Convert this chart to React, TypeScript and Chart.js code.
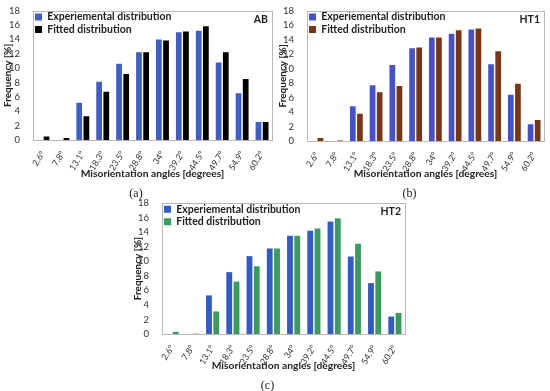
import React, { useEffect, useRef } from "react";
import { Chart, registerables } from "chart.js";

Chart.register(...registerables);

const angleLabels = ["2.6°", "7.8°", "13.1°", "18.3°", "23.5°", "28.8°", "34°", "39.2°", "44.5°", "49.7°", "54.9°", "60.2°"];

const abExperimental = [0, 0, 5.2, 8.1, 10.6, 12.2, 14.0, 15.0, 15.2, 10.8, 6.5, 2.5];
const abFitted = [0.5, 0.28, 3.3, 6.7, 9.2, 12.2, 13.85, 15.1, 15.85, 12.2, 8.5, 2.5];

const ht1Experimental = [0, 0, 4.8, 7.7, 10.5, 12.8, 14.3, 14.8, 15.4, 10.6, 6.4, 2.3];
const ht1Fitted = [0.4, 0.06, 3.75, 6.75, 7.6, 12.9, 14.3, 15.3, 15.55, 12.4, 7.9, 2.9];

const ht2Experimental = [0, 0, 5.3, 8.5, 10.7, 11.75, 13.5, 14.2, 15.45, 10.65, 7.0, 2.4];
const ht2Fitted = [0.3, 0.05, 3.1, 7.2, 9.3, 11.75, 13.5, 14.5, 15.9, 12.4, 8.6, 2.9];

const yMin = 0;
const yMax = 18;
const yStep = 2;

const seriesNames = ["Experiemental distribution", "Fitted distribution"];

const FONT = "Lato, 'Open Sans', sans-serif";

const framePlugin = {
  id: "frame",
  beforeDatasetsDraw(chart: any) {
    const { ctx, chartArea } = chart;
    ctx.save();
    ctx.strokeStyle = "#b8b8b8";
    ctx.lineWidth = 1;
    ctx.strokeRect(
      Math.round(chartArea.left) + 0.5,
      Math.round(chartArea.top) + 0.5,
      Math.round(chartArea.right - chartArea.left),
      Math.round(chartArea.bottom - chartArea.top)
    );
    ctx.restore();
  },
};

// keep the in-plot legend anchored to the plot's top-left corner
const legendAnchorPlugin = {
  id: "legendAnchor",
  afterLayout(chart: any) {
    const lg = chart.legend;
    if (!lg) return;
    const h = lg.bottom - lg.top;
    lg.top = chart.chartArea.top - 1;
    lg.bottom = lg.top + h;
    lg.left = chart.chartArea.left;
  },
};

const cornerPlugin = {
  id: "cornerLabel",
  afterDraw(chart: any, _args: any, opts: any) {
    if (!opts || !opts.text) return;
    const { ctx, chartArea } = chart;
    ctx.save();
    ctx.font = `bold 10.5px ${FONT}`;
    ctx.fillStyle = "#222";
    ctx.textAlign = "right";
    ctx.textBaseline = "middle";
    ctx.fillText(opts.text, chartArea.right - 4, chartArea.top + 9);
    ctx.restore();
  },
};

type PanelProps = {
  left: number;
  top: number;
  width: number;
  height: number;
  yWidth: number;
  padTop: number;
  padRight: number;
  xHeight: number;
  exp: number[];
  fit: number[];
  expColor: string;
  fitColor: string;
  tag: string;
  caption: string;
};

function Panel(p: PanelProps) {
  const ref = useRef<HTMLCanvasElement | null>(null);
  useEffect(() => {
    if (!ref.current) return;
    const chart = new Chart(ref.current, {
      type: "bar",
      data: {
        labels: angleLabels,
        datasets: [
          { label: seriesNames[0], data: p.exp, backgroundColor: p.expColor, categoryPercentage: 0.72, barPercentage: 0.8 },
          { label: seriesNames[1], data: p.fit, backgroundColor: p.fitColor, categoryPercentage: 0.72, barPercentage: 0.8 },
        ],
      },
      options: {
        animation: false,
        responsive: false,
        devicePixelRatio: 1,
        layout: { padding: { top: p.padTop, right: p.padRight, left: 0, bottom: 0 } },
        scales: {
          x: {
            grid: { display: false },
            border: { display: false },
            ticks: { color: "#333", font: { family: FONT, size: 8.8 }, minRotation: 58, maxRotation: 58, padding: 1, autoSkip: false },
            title: {
              display: true,
              text: "Misorientation angles [degrees]",
              color: "#222",
              font: { family: FONT, size: 10.3, weight: "bold" },
              padding: { top: 0, bottom: 2 },
            },
            afterFit: (s: any) => { s.height = p.xHeight; },
          },
          y: {
            min: yMin,
            max: yMax,
            grid: { display: false },
            border: { display: false },
            ticks: { stepSize: yStep, autoSkip: false, color: "#333", font: { family: FONT, size: 9.5 }, padding: 5 },
            title: {
              display: true,
              text: "Frequency [%]",
              color: "#222",
              font: { family: FONT, size: 10, weight: "bold" },
              padding: { top: 2, bottom: 0 },
            },
            afterFit: (s: any) => { s.width = p.yWidth; },
          },
        },
        plugins: {
          legend: {
            position: "chartArea" as any,
            align: "start",
            labels: {
              boxWidth: 7,
              boxHeight: 7,
              padding: 2,
              color: "#222",
              font: { family: FONT, size: 10.5, weight: "bold", lineHeight: 1.0 },
            },
          },
          title: {
            display: true,
            position: "bottom",
            text: p.caption,
            color: "#222",
            font: { family: "'Liberation Serif', serif", size: 12, weight: "normal" },
            padding: { top: 5, bottom: 0 },
          },
          tooltip: { enabled: false },
          cornerLabel: { text: p.tag },
        } as any,
      },
      plugins: [framePlugin, legendAnchorPlugin, cornerPlugin],
    });
    return () => chart.destroy();
  }, []);
  return (
    <canvas
      ref={ref}
      width={p.width}
      height={p.height}
      style={{ position: "absolute", left: p.left, top: p.top, width: p.width, height: p.height, display: "block" }}
    />
  );
}

export default function App() {
  return (
    <div style={{ position: "absolute", left: 0, top: 0, width: 550, height: 391, overflow: "hidden", background: "#fff" }}>
      <Panel left={0} top={0} width={275} height={201} yWidth={33} padTop={9} padRight={3} xHeight={41.6}
        exp={abExperimental} fit={abFitted} expColor="#3f5ec6" fitColor="#000000" tag="AB" caption="(a)" />
      <Panel left={275} top={0} width={275} height={201} yWidth={32} padTop={10} padRight={6} xHeight={40.6}
        exp={ht1Experimental} fit={ht1Fitted} expColor="#4650cc" fitColor="#7a3614" tag="HT1" caption="(b)" />
      <Panel left={130} top={190} width={280} height={203} yWidth={32} padTop={13} padRight={5} xHeight={39.6}
        exp={ht2Experimental} fit={ht2Fitted} expColor="#2f5cc8" fitColor="#3b9a5e" tag="HT2" caption="(c)" />
    </div>
  );
}
